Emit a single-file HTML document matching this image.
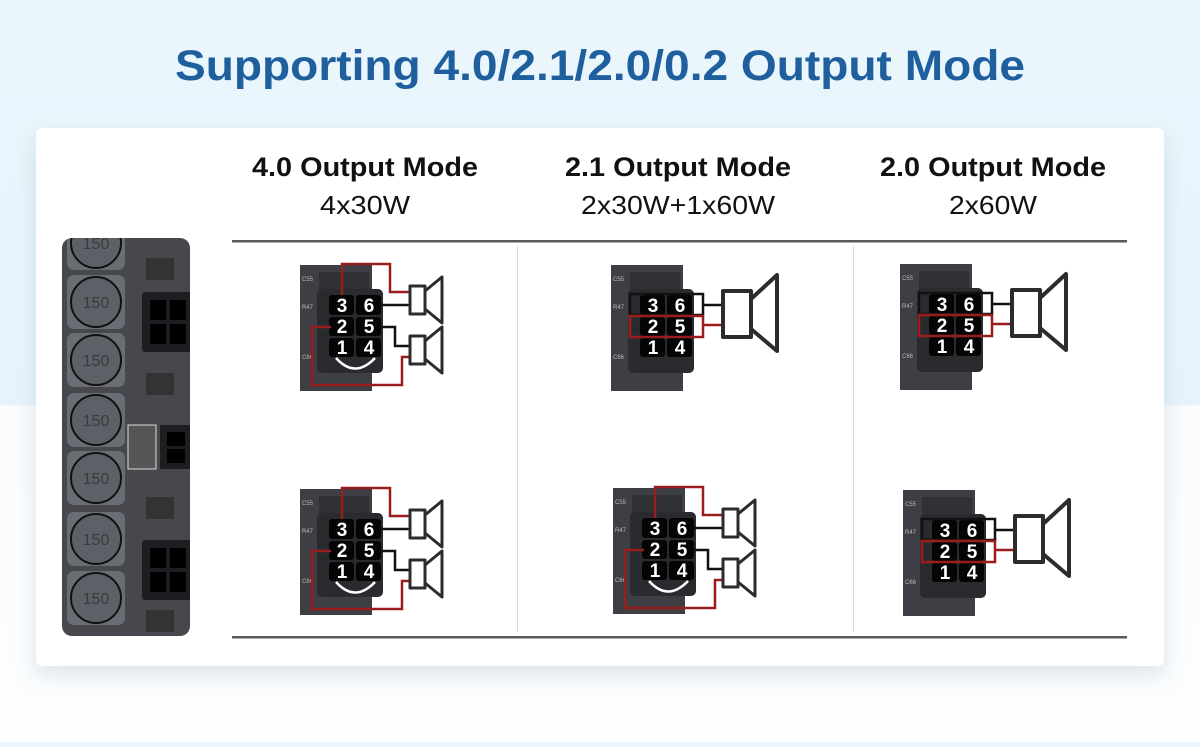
<!DOCTYPE html>
<html><head><meta charset="utf-8"><style>
html,body{margin:0;padding:0}
body{width:1200px;height:742px;overflow:hidden;font-family:"Liberation Sans",sans-serif;background:linear-gradient(#eaf6fc 0,#e6f3fb 405px,#fafcfe 406px,#fbfdfe 742px)}
</style></head><body>
<svg width="1200" height="742" viewBox="0 0 1200 742" xmlns="http://www.w3.org/2000/svg" font-family="Liberation Sans, sans-serif">
<defs>
<filter id="sh" x="-5%" y="-5%" width="110%" height="115%"><feDropShadow dx="0" dy="8" stdDeviation="10" flood-color="#9fb4c6" flood-opacity="0.35"/></filter>
<clipPath id="bclip"><rect x="62" y="238" width="128" height="398" rx="10"/></clipPath>
<g id="conn">
  <rect x="-9" y="-2" width="72" height="126" fill="#3d3f44"/>
  <rect x="10" y="5" width="50" height="18" fill="#2f3135"/>
  <rect x="8" y="22" width="66" height="84" rx="5" fill="#2a2b2f"/>
  <rect x="20" y="28" width="25" height="20" rx="3" fill="#050505"/>
  <rect x="47" y="28" width="25" height="20" rx="3" fill="#050505"/>
  <rect x="20" y="50" width="25" height="19" rx="3" fill="#050505"/>
  <rect x="47" y="50" width="25" height="19" rx="3" fill="#050505"/>
  <rect x="20" y="71" width="25" height="19" rx="3" fill="#050505"/>
  <rect x="47" y="71" width="25" height="19" rx="3" fill="#050505"/>
  <g fill="#fff" font-weight="bold" font-size="19" text-anchor="middle">
    <text x="33" y="45">3</text><text x="60" y="45">6</text>
    <text x="33" y="66">2</text><text x="60" y="66">5</text>
    <text x="33" y="87">1</text><text x="60" y="87">4</text>
  </g>
  <g fill="#bbb" font-size="6"><text x="-7" y="14">C55</text><text x="-7" y="42">R47</text><text x="-7" y="92">C66</text></g>
</g>
<g id="w4">
  <use href="#conn"/>
  <path d="M33 28 V-3 H81 V25 H101" fill="none" stroke="#9b1c1c" stroke-width="2.5"/>
  <path d="M72 38 H101" stroke="#111" stroke-width="2.5"/>
  <path d="M72 60 H86 V79 H101" fill="none" stroke="#111" stroke-width="2.5"/>
  <path d="M22 60 H3 V118 H93 V90 H101" fill="none" stroke="#9b1c1c" stroke-width="2.5"/>
  <path d="M27 91 Q46 112 66 91" fill="none" stroke="#fff" stroke-width="2.5"/>
  <g fill="#fff" stroke="#2c2c2c" stroke-width="3" stroke-linejoin="round">
    <rect x="101" y="19" width="15" height="28"/><path d="M116 24 L133 10 V56 L116 42 Z"/>
    <rect x="101" y="69" width="15" height="28"/><path d="M116 74 L133 60 V106 L116 92 Z"/>
  </g>
</g>
<g id="w2">
  <use href="#conn"/>
  <rect x="10" y="27" width="73" height="21" fill="none" stroke="#111" stroke-width="2.5"/>
  <rect x="10" y="49" width="73" height="21" fill="none" stroke="#9b1c1c" stroke-width="2.5"/>
  <path d="M83 38 H103" stroke="#111" stroke-width="2.5"/>
  <path d="M83 58 H103" stroke="#9b1c1c" stroke-width="2.5"/>
  <g fill="#fff" stroke="#2c2c2c" stroke-width="4" stroke-linejoin="round">
    <rect x="103" y="24" width="28" height="46"/><path d="M131 32 L157 8 V84 L131 62 Z"/>
  </g>
</g>
<g id="ind">
  <rect x="-29" y="-27" width="58" height="54" rx="7" fill="#6a6d73"/>
  <circle r="25" fill="#5d6066" stroke="#111" stroke-width="2"/>
  <text y="6" text-anchor="middle" font-size="16" fill="#3a3b3e">150</text>
</g>
<g id="bc">
  <rect x="0" y="0" width="52" height="60" rx="3" fill="#1d1e21"/>
  <rect x="8" y="8" width="16" height="20" fill="#000"/><rect x="28" y="8" width="16" height="20" fill="#000"/>
  <rect x="8" y="32" width="16" height="20" fill="#000"/><rect x="28" y="32" width="16" height="20" fill="#000"/>
</g>
</defs>

<text x="600" y="80" text-anchor="middle" font-size="43" font-weight="bold" fill="#1f5f9e" textLength="850" lengthAdjust="spacingAndGlyphs">Supporting 4.0/2.1/2.0/0.2 Output Mode</text>

<rect x="36" y="128" width="1128" height="538" rx="6" fill="#fff" filter="url(#sh)"/>

<!-- left board -->
<g clip-path="url(#bclip)">
<rect x="62" y="238" width="128" height="398" fill="#46484d"/>
<use href="#ind" x="96" y="243"/><use href="#ind" x="96" y="302"/><use href="#ind" x="96" y="360"/>
<use href="#ind" x="96" y="420"/><use href="#ind" x="96" y="478"/><use href="#ind" x="96" y="539"/><use href="#ind" x="96" y="598"/>
<use href="#bc" x="142" y="292"/>
<rect x="160" y="425" width="34" height="44" fill="#1d1e21"/><rect x="167" y="432" width="18" height="14" fill="#000"/><rect x="167" y="449" width="18" height="14" fill="#000"/>
<use href="#bc" x="142" y="540"/>
<rect x="146" y="258" width="28" height="22" fill="#333"/><rect x="146" y="373" width="28" height="22" fill="#333"/><rect x="146" y="497" width="28" height="22" fill="#333"/><rect x="146" y="610" width="28" height="22" fill="#333"/>
<rect x="128" y="425" width="28" height="44" fill="#555" stroke="#ddd" stroke-width="1"/>
</g>

<g text-anchor="middle" fill="#111">
<text x="365" y="176" font-size="27" font-weight="bold" textLength="226" lengthAdjust="spacingAndGlyphs">4.0 Output Mode</text>
<text x="365" y="214" font-size="26" textLength="90" lengthAdjust="spacingAndGlyphs">4x30W</text>
<text x="678" y="176" font-size="27" font-weight="bold" textLength="226" lengthAdjust="spacingAndGlyphs">2.1 Output Mode</text>
<text x="678" y="214" font-size="26" textLength="194" lengthAdjust="spacingAndGlyphs">2x30W+1x60W</text>
<text x="993" y="176" font-size="27" font-weight="bold" textLength="226" lengthAdjust="spacingAndGlyphs">2.0 Output Mode</text>
<text x="993" y="214" font-size="26" textLength="88" lengthAdjust="spacingAndGlyphs">2x60W</text>
</g>
<rect x="232" y="240" width="895" height="2.5" fill="#5a5a5a"/>
<rect x="232" y="636" width="895" height="2.5" fill="#5a5a5a"/>
<rect x="517" y="246" width="1" height="386" fill="#d8d8d8"/>
<rect x="853" y="246" width="1" height="386" fill="#d8d8d8"/>

<use href="#w4" x="309" y="267"/>
<use href="#w4" x="309" y="491"/>
<use href="#w2" x="620" y="267"/>
<use href="#w4" x="622" y="490"/>
<use href="#w2" x="909" y="266"/>
<use href="#w2" x="912" y="492"/>
</svg>
</body></html>
